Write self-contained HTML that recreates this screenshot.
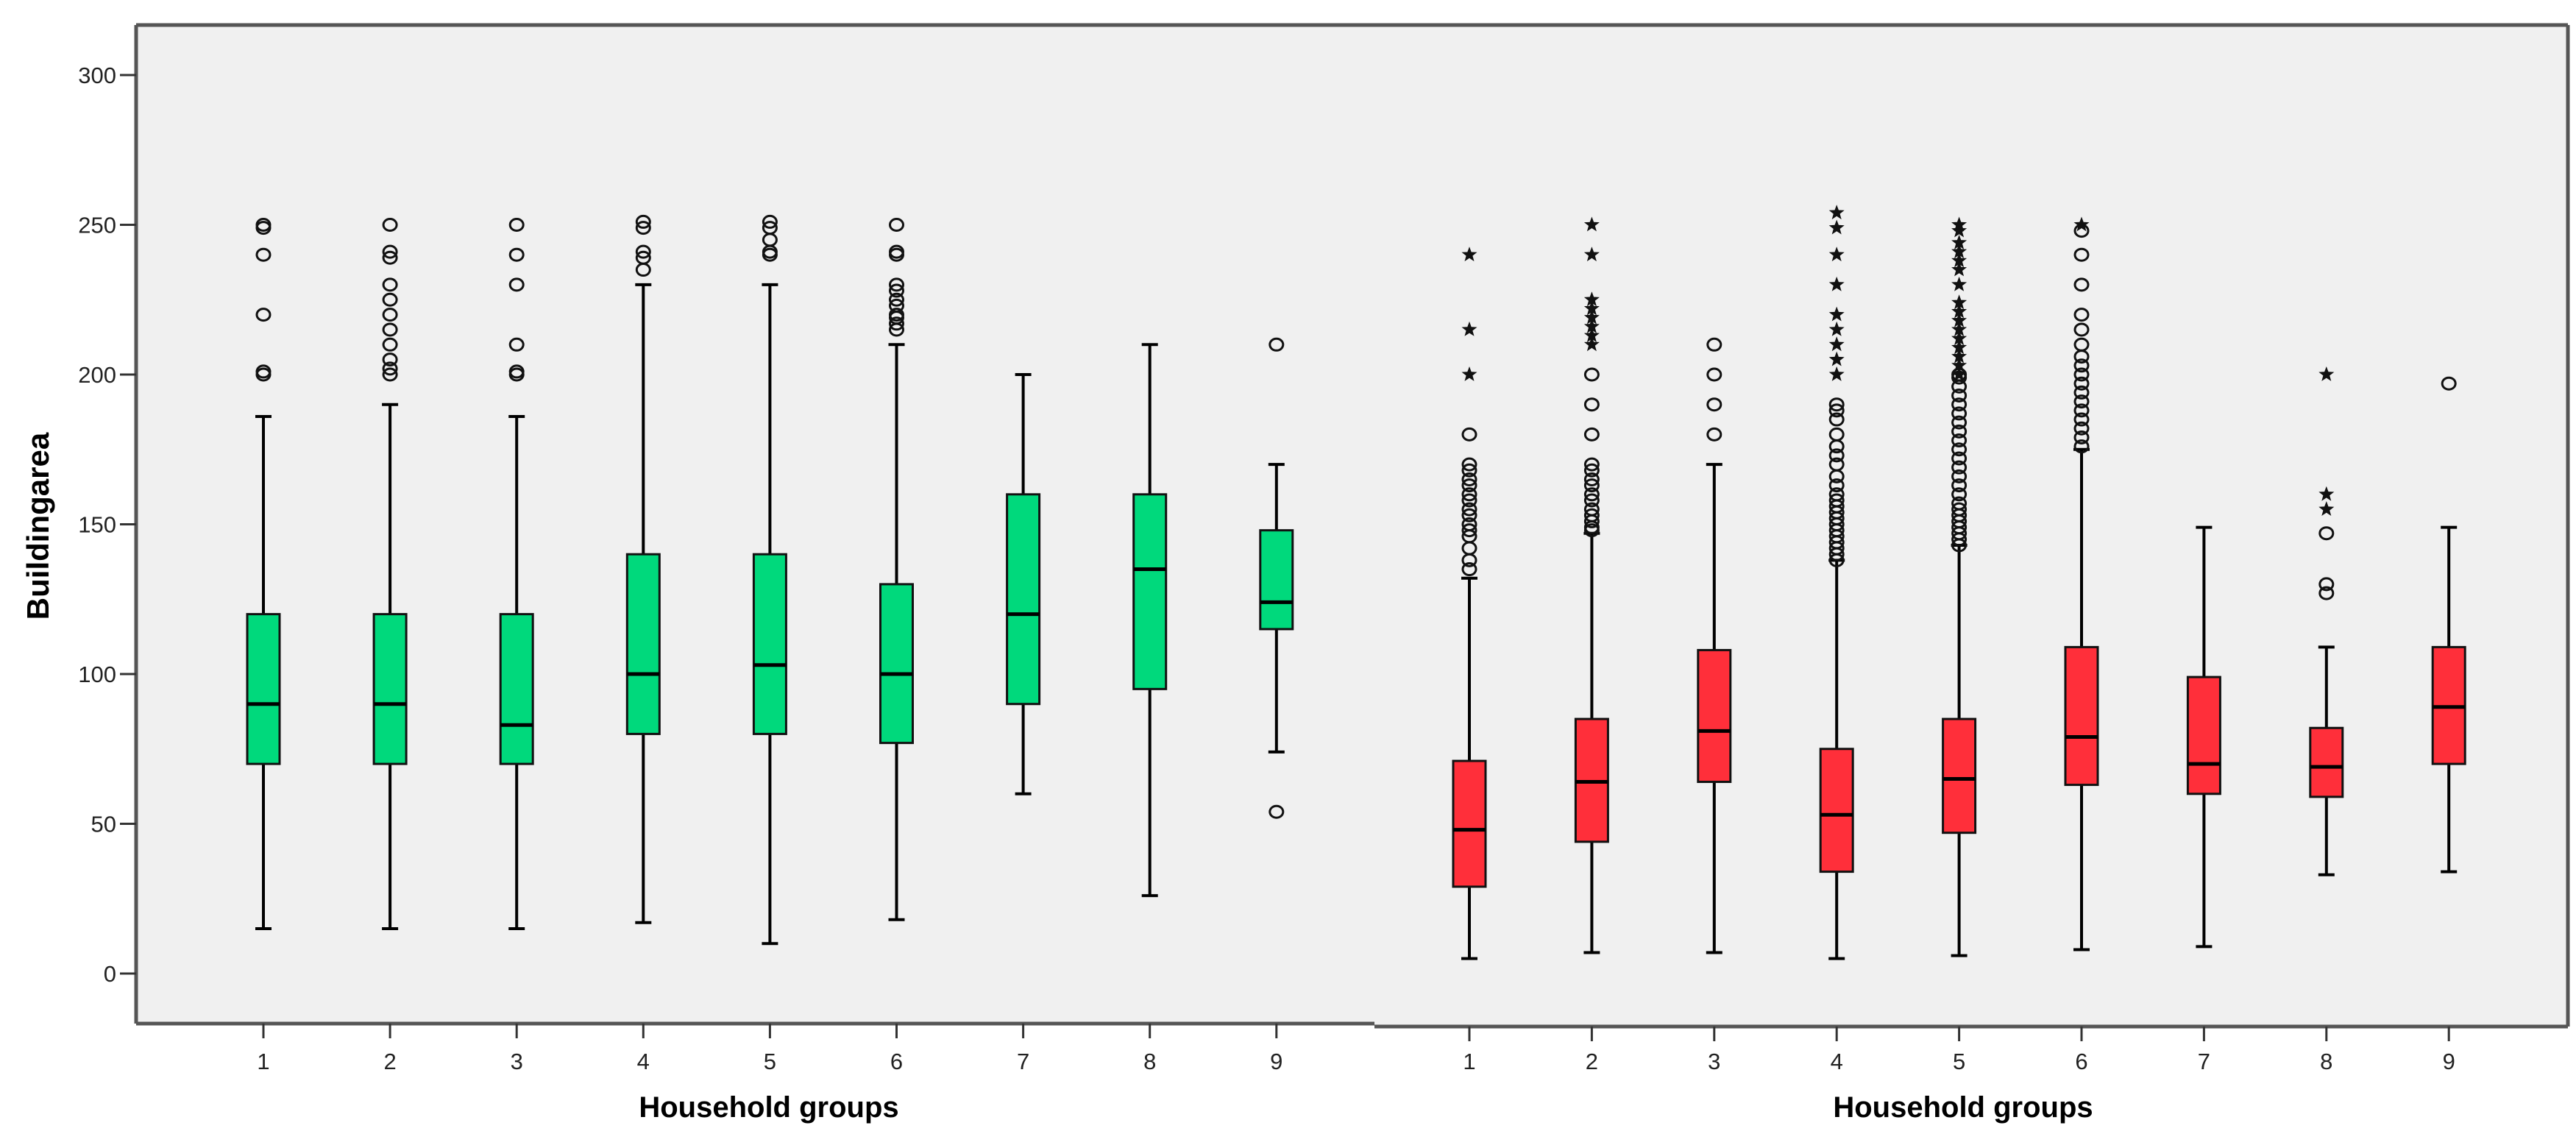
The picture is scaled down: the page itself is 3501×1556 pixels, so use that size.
<!DOCTYPE html>
<html><head><meta charset="utf-8">
<style>
html,body{margin:0;padding:0;background:#fff;}
svg{display:block;}
text{font-family:"Liberation Sans",sans-serif;}
</style></head>
<body>
<svg id="chart" width="3501" height="1556" viewBox="0 0 3501 1556" xmlns="http://www.w3.org/2000/svg">
  <rect x="185" y="34" width="1683" height="1357" fill="#f0f0f0"/>
  <rect x="1868" y="34" width="1622" height="1361" fill="#f0f0f0"/>
  <g id="frame" stroke="#555" stroke-width="5" fill="none">
    <line x1="185" y1="34" x2="3490" y2="34"/>
    <line x1="185" y1="34" x2="185" y2="1391"/>
    <line x1="185" y1="1391" x2="1868" y2="1391"/>
    <line x1="1868" y1="1395" x2="3490" y2="1395"/>
    <line x1="3490" y1="34" x2="3490" y2="1395"/>
  </g>
  <g id="yaxis"></g>
  <g id="xaxis"></g>
  <g id="boxes"></g>
  <text transform="translate(66,715) rotate(-90)" text-anchor="middle" font-size="42" font-weight="bold">Buildingarea</text>
  <text x="1045" y="1518" text-anchor="middle" font-size="40" font-weight="bold">Household groups</text>
  <text x="2668" y="1518" text-anchor="middle" font-size="40" font-weight="bold">Household groups</text>
</svg>
<script>
const categories = ["1","2","3","4","5","6","7","8","9"];
const yTicks = [0,50,100,150,200,250,300];
// left (green) group: [low whisker, q1, median, q3, high whisker]
const leftLow    = [15,15,15,17,10,18,60,26,74];
const leftQ1     = [70,70,70,80,80,77,90,95,115];
const leftMedian = [90,90,83,100,103,100,120,135,124];
const leftQ3     = [120,120,120,140,140,130,160,160,148];
const leftHigh   = [186,190,186,230,230,210,200,210,170];
const leftOutliers = [
  [200,201,220,240,250,249],
  [200,202,205,210,215,220,225,230,239,241,250],
  [200,201,210,230,240,250],
  [235,239,241,249,251],
  [240,241,245,249,251],
  [215,217,219,220,223,225,228,230,240,241,250],
  [],[],
  [210,54]
];
const leftStars = [[],[],[],[],[],[],[],[],[]];
// right (red) group
const rightLow    = [5,7,7,5,6,8,9,33,34];
const rightQ1     = [29,44,64,34,47,63,60,59,70];
const rightMedian = [48,64,81,53,65,79,70,69,89];
const rightQ3     = [71,85,108,75,85,109,99,82,109];
const rightHigh   = [132,147,170,138,143,175,149,109,149];
const rightOutliers = [
  [135,138,142,146,148,150,153,155,158,160,163,165,168,170,180],
  [148,149,151,153,155,158,160,163,165,168,170,180,190,200],
  [180,190,200,210],
  [138,140,142,144,146,148,150,152,154,156,158,160,163,166,170,173,176,180,185,188,190],
  [143,145,147,149,151,153,155,157,160,163,166,169,172,175,178,181,184,187,190,193,196,199,200],
  [176,179,182,185,188,191,194,197,200,203,206,210,215,220,230,240,248],
  [],
  [127,130,147],
  [197]
];
const rightStars = [
  [200,215,240],
  [210,213,216,219,222,225,240,250],
  [],
  [200,205,210,215,220,230,240,249,254],
  [200,203,206,209,212,215,218,221,224,230,235,238,241,244,248,250],
  [250],
  [],
  [155,160,200],
  []
];

const NS = "http://www.w3.org/2000/svg";
const yScale = v => 1323 - v * 4.07;
const leftX = i => 358 + i * 172.1;
const rightX = i => 1997 + i * 166.4;
function mk(tag, attrs, parent) {
  const el = document.createElementNS(NS, tag);
  for (const k in attrs) el.setAttribute(k, attrs[k]);
  parent.appendChild(el);
  return el;
}
const yaxis = document.getElementById('yaxis');
yTicks.forEach(t => {
  const y = yScale(t);
  const ln = mk('line', {x1:163, x2:185, y1:y, y2:y, stroke:'#333', 'stroke-width':3}, yaxis);
  
  
  const tx = mk('text', {x:158, y:y+11, 'text-anchor':'end', 'font-size':31, fill:'#222'}, yaxis);
  tx.textContent = t;
  
  
});
const xaxis = document.getElementById('xaxis');
categories.forEach((c, i) => {
  [[leftX(i), 1391], [rightX(i), 1395]].forEach(([x, y0]) => {
    const ln = mk('line', {x1:x, x2:x, y1:y0, y2:y0+20, stroke:'#333', 'stroke-width':3}, xaxis);
    
    
    const tx = mk('text', {x:x, y:1453, 'text-anchor':'middle', 'font-size':31, fill:'#222'}, xaxis);
    tx.textContent = c;
    
    
  });
});
function star(cx, cy, r, parent) {
  let pts = [];
  for (let k = 0; k < 10; k++) {
    const a = -Math.PI/2 + k*Math.PI/5;
    const rr = k % 2 ? r*0.42 : r;
    pts.push((cx + rr*Math.cos(a)).toFixed(1) + ',' + (cy + rr*Math.sin(a)).toFixed(1));
  }
  return mk('polygon', {points: pts.join(' '), fill:'#111'}, parent);
}
const boxes = document.getElementById('boxes');
function drawGroup(xf, low, q1, med, q3, high, outs, stars, color, side) {
  categories.forEach((c, i) => {
    const g = mk('g', {}, boxes);
    
    
    const x = xf(i), hw = 22;
    const w = mk('line', {x1:x, x2:x, y1:yScale(low[i]), y2:yScale(high[i]), stroke:'#000', 'stroke-width':4}, g);
    
    
    [low[i], high[i]].forEach(v => {
      const cap = mk('line', {x1:x-11, x2:x+11, y1:yScale(v), y2:yScale(v), stroke:'#000', 'stroke-width':4}, g);
      
      
    });
    const r = mk('rect', {x:x-hw, y:yScale(q3[i]), width:2*hw, height:yScale(q1[i])-yScale(q3[i]), fill:color, stroke:'#111', 'stroke-width':3}, g);
    
    
    const m = mk('line', {x1:x-hw, x2:x+hw, y1:yScale(med[i]), y2:yScale(med[i]), stroke:'#000', 'stroke-width':5}, g);
    
    
    outs[i].forEach(v => {
      const e = mk('ellipse', {cx:x, cy:yScale(v), rx:9, ry:8, fill:'none', stroke:'#111', 'stroke-width':3}, g);
      
      
    });
    stars[i].forEach(v => {
      const s = star(x, yScale(v), 11, g);
      
      
    });
  });
}
drawGroup(leftX, leftLow, leftQ1, leftMedian, leftQ3, leftHigh, leftOutliers, leftStars, '#00d97c', 'left');
drawGroup(rightX, rightLow, rightQ1, rightMedian, rightQ3, rightHigh, rightOutliers, rightStars, '#ff2f3a', 'right');
</script>
</body></html>
